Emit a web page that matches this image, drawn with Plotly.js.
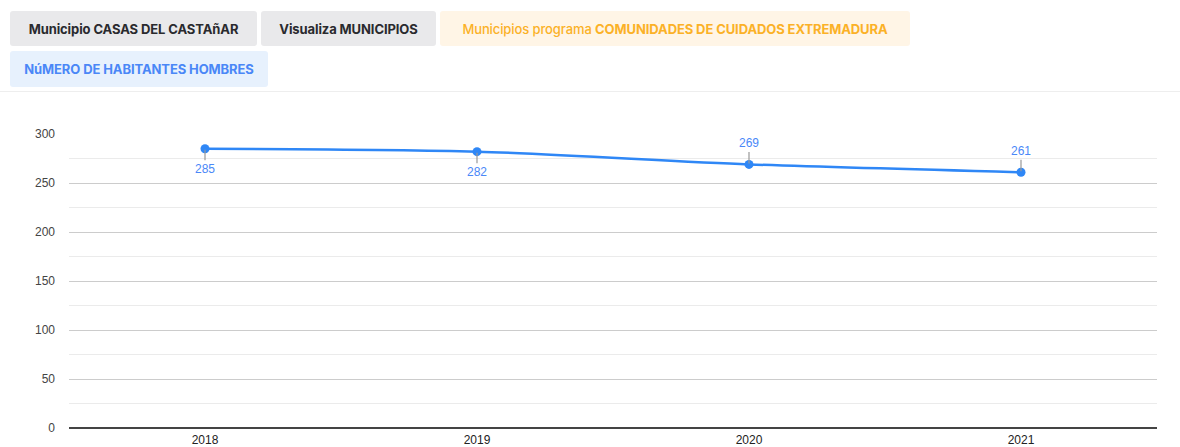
<!DOCTYPE html>
<html>
<head>
<meta charset="utf-8">
<script src="https://cdn.plot.ly/plotly-3.0.1.min.js"></script>
<style>
  html, body { margin: 0; padding: 0; background: #ffffff; width: 1180px; height: 447px; overflow: hidden; }
  .btn { position: absolute; box-sizing: border-box; border-radius: 3px; font-family: "Inter", "Noto Sans", sans-serif;
         font-size: 13px; font-weight: 700; display: flex; align-items: center; justify-content: center; white-space: nowrap; letter-spacing: -0.1px; }
  .grey { background: #e9e9eb; color: #2a2a2e; }
  .orange { background: #fff5e6; color: #fbb127; }
  .orange .reg { font-weight: 500; }
  .blue { background: #e7f1fd; color: #4a87f7; }
  #sep { position: absolute; left: 0; top: 91px; width: 1180px; height: 1px; background: #eeeeee; }
  #chart { position: absolute; left: 0; top: 92px; width: 1180px; height: 355px; }
</style>
</head>
<body>
<div class="btn grey" style="left:10px;top:11px;width:247px;height:35px;">Municipio CASAS DEL CASTAñAR</div>
<div class="btn grey" style="left:261px;top:11px;width:175px;height:35px;">Visualiza MUNICIPIOS</div>
<div class="btn orange" style="left:440px;top:11px;width:470px;height:35px;"><span class="reg">Municipios programa&nbsp;</span>COMUNIDADES DE CUIDADOS EXTREMADURA</div>
<div class="btn blue" style="left:10px;top:51px;width:258px;height:36px;">NúMERO DE HABITANTES HOMBRES</div>
<div id="sep"></div>
<div id="chart"></div>
<script>
const years = ['2018', '2019', '2020', '2021'];
const hombres = [285, 282, 269, 261];
const yTicks = [0, 50, 100, 150, 200, 250, 300];

const lineColor = '#2f87f6';
const labelColor = '#4a88f8';

const trace = {
  x: years,
  y: hombres,
  type: 'scatter',
  mode: 'lines+markers',
  line: { color: lineColor, width: 2.5, shape: 'spline', smoothing: 0.8 },
  marker: { color: lineColor, size: 9 },
  hoverinfo: 'x+y'
};

const annotations = hombres.map((v, i) => ({
  x: i,
  y: v,
  xref: 'x',
  yref: 'y',
  text: String(v),
  showarrow: true,
  arrowhead: 0,
  arrowwidth: 1.2,
  arrowcolor: '#999999',
  ax: 0,
  ay: i < 2 ? 20 : -21,
  standoff: 1,
  font: { family: 'Liberation Sans, Arial, sans-serif', size: 12, color: labelColor }
}));

const layout = {
  width: 1180,
  height: 355,
  margin: { l: 69, r: 23, t: 42, b: 19 },
  paper_bgcolor: '#ffffff',
  plot_bgcolor: '#ffffff',
  showlegend: false,
  font: { family: 'Liberation Sans, Arial, sans-serif', size: 12, color: '#444444' },
  xaxis: {
    type: 'category',
    range: [-0.5, 3.5],
    showgrid: false,
    zeroline: false,
    showline: false,
    ticks: '',
    ticklabelstandoff: 3,
    automargin: false,
    tickfont: { size: 12, color: '#222222' },
    fixedrange: true
  },
  yaxis: {
    range: [0, 300],
    tickvals: yTicks,
    ticktext: yTicks.map(String),
    showgrid: true,
    gridcolor: '#cccccc',
    gridwidth: 1,
    minor: { dtick: 25, tick0: 0, showgrid: true, gridcolor: '#ebebeb', gridwidth: 1 },
    zeroline: true,
    zerolinecolor: '#444444',
    zerolinewidth: 2,
    showline: false,
    ticks: '',
    ticklabelstandoff: 13,
    automargin: false,
    tickfont: { size: 12, color: '#444444' },
    fixedrange: true
  },
  annotations: annotations
};

Plotly.newPlot('chart', [trace], layout, { displayModeBar: false });
</script>
</body>
</html>
